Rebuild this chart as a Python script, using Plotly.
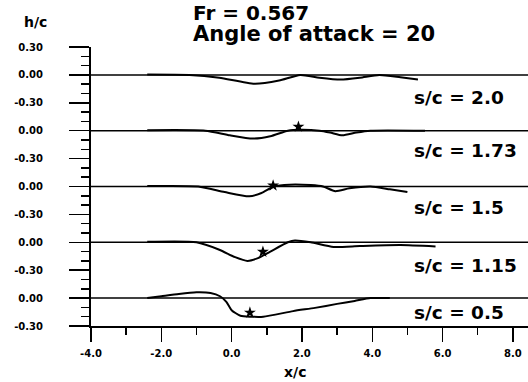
import plotly.graph_objects as go

# ---- data ----
offsets = [2.4, 1.8, 1.2, 0.6, 0.0]          # vertical stacking of panels
sc_labels = ["s/c = 2.0", "s/c = 1.73", "s/c = 1.5", "s/c = 1.15", "s/c = 0.5"]
label_dy = [-0.24, -0.21, -0.23, -0.245, -0.15]

x1 = [-2.4, -1.2, -0.35, 0.65, 1.35, 1.95, 2.5, 3.1, 3.65, 4.2, 4.8, 5.3]
y1 = [0.005, 0.0, -0.03, -0.095, -0.06, 0.0, -0.03, -0.05, -0.03, 0.0, -0.025, -0.05]

x2 = [-2.4, -0.75, -0.05, 0.6, 1.1, 1.6, 1.95, 2.5, 2.8, 3.15, 3.55, 3.95, 5.5]
y2 = [0.005, 0.0, -0.05, -0.085, -0.06, 0.0, 0.01, 0.0, -0.02, -0.05, -0.02, 0.0, 0.0]

x3 = [-2.4, -0.95, -0.2, 0.5, 0.85, 1.2, 1.65, 2.25, 2.6, 2.95, 3.35, 3.95, 4.5, 5.0]
y3 = [0.005, 0.0, -0.06, -0.105, -0.07, 0.0, 0.02, 0.015, 0.0, -0.05, -0.02, 0.0, -0.03, -0.06]

x4 = [-2.4, -1.0, -0.35, 0.1, 0.45, 0.75, 1.1, 1.6, 1.8, 2.25, 2.9, 3.65, 4.8, 5.8]
y4 = [0.005, 0.0, -0.08, -0.16, -0.2, -0.17, -0.1, 0.0, 0.02, 0.0, -0.05, -0.04, -0.03, -0.045]

x5 = [-2.4, -2.0, -1.5, -1.0, -0.6, -0.33, -0.15, 0.0, 0.25, 0.55, 0.9, 1.75, 2.37, 3.0, 3.5, 3.95, 4.5]
y5 = [0.0, 0.02, 0.045, 0.062, 0.055, 0.02, -0.04, -0.13, -0.19, -0.2, -0.2, -0.14, -0.105, -0.062, -0.03, 0.0, 0.0]

curves_x = [x1, x2, x3, x4, x5]
curves_y = [y1, y2, y3, y4, y5]

# stars (panels 2..5)
star_panel = [1, 2, 3, 4]
star_x = [1.9, 1.18, 0.89, 0.52]
star_y = [0.043, 0.01, -0.102, -0.156]

y_tickvals = [-0.3, 0.0, 0.3, 0.6, 0.9, 1.2, 1.5, 1.8, 2.1, 2.4, 2.7]
y_ticktext = ["-0.30", "0.00", "-0.30", "0.00", "-0.30", "0.00", "-0.30", "0.00", "-0.30", "0.00", "0.30"]
x_tickvals = [-4, -2, 0, 2, 4, 6, 8]
x_ticktext = ["-4.0", "-2.0", "0.0", "2.0", "4.0", "6.0", "8.0"]
x_range = [-4, 8.43]
y_range = [-0.3, 2.7]

FONT = "DejaVu Sans"
L, T, B, W, H = 91, 47, 56, 528, 382
PW, PH = W - L, H - T - B

fig = go.Figure()

for off in offsets:
    fig.add_hline(y=off, line=dict(color="black", width=1.5), layer="below")

for cx, cy, off in zip(curves_x, curves_y, offsets):
    fig.add_trace(go.Scatter(
        x=cx, y=[v + off for v in cy], mode="lines",
        line=dict(color="black", width=2, shape="spline", smoothing=0.6),
        showlegend=False, hoverinfo="skip"))

fig.add_trace(go.Scatter(
    x=star_x, y=[sy + offsets[p] for sy, p in zip(star_y, star_panel)],
    mode="markers", marker=dict(symbol="star", size=9, color="black"),
    showlegend=False, hoverinfo="skip"))

for lab, off, dy in zip(sc_labels, offsets, label_dy):
    fig.add_annotation(x=5.13, y=off + dy, text="<b>%s</b>" % lab, showarrow=False,
                       xanchor="left", yanchor="middle",
                       font=dict(family=FONT, size=18.5, color="black"))

def px_x(p):
    return (p - L) / PW

def px_y(p):
    return 1 - (p - T) / PH

fig.add_annotation(xref="paper", yref="paper", x=px_x(191), y=px_y(13),
                   text="<b>Fr = 0.567</b>", showarrow=False, xanchor="left", yanchor="middle",
                   font=dict(family=FONT, size=20, color="black"))
fig.add_annotation(xref="paper", yref="paper", x=px_x(191), y=px_y(34),
                   text="<b>Angle of attack = 20</b>", showarrow=False, xanchor="left", yanchor="middle",
                   font=dict(family=FONT, size=21, color="black"))
fig.add_annotation(xref="paper", yref="paper", x=px_x(35), y=px_y(22),
                   text="<b>h/c</b>", showarrow=False, xanchor="center", yanchor="middle",
                   font=dict(family=FONT, size=14, color="black"))
fig.add_annotation(xref="paper", yref="paper", x=px_x(295), y=px_y(372),
                   text="<b>x/c</b>", showarrow=False, xanchor="center", yanchor="middle",
                   font=dict(family=FONT, size=14, color="black"))

fig.update_layout(
    width=W, height=H,
    margin=dict(l=L, r=0, t=T, b=B, autoexpand=False),
    paper_bgcolor="white", plot_bgcolor="white",
    xaxis=dict(range=x_range, showgrid=False, zeroline=False, showline=True, automargin=False,
               linecolor="black", linewidth=1.5,
               tickmode="array", tickvals=x_tickvals, ticktext=x_ticktext,
               ticks="outside", ticklen=14, tickwidth=1.5, tickcolor="black",
               ticklabelstandoff=3,
               tickfont=dict(family=FONT, size=10, color="black", weight="bold"),
               minor=dict(tickmode="linear", tick0=-4, dtick=1, ticks="outside", ticklen=7,
                          tickwidth=1.5, tickcolor="black", showgrid=False)),
    yaxis=dict(range=y_range, showgrid=False, zeroline=False, showline=True, automargin=False,
               linecolor="black", linewidth=2,
               tickmode="array", tickvals=y_tickvals, ticktext=y_ticktext,
               ticks="outside", ticklen=20, tickwidth=1.5, tickcolor="black",
               ticklabelstandoff=24,
               tickfont=dict(family=FONT, size=10, color="black", weight="bold"),
               minor=dict(tickmode="linear", tick0=-0.3, dtick=0.1, ticks="outside", ticklen=8,
                          tickwidth=1.5, tickcolor="black", showgrid=False)),
)

fig.write_html("out.html", config={"displayModeBar": False, "staticPlot": True},
               post_script="document.body.style.margin='0';document.body.style.padding='0';")
